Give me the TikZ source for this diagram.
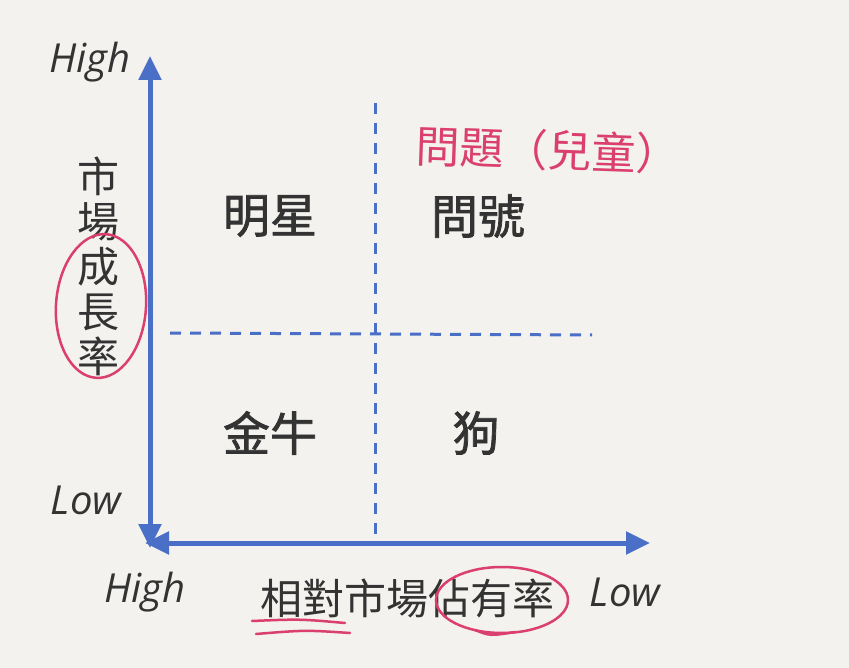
\documentclass[tikz,border=0pt]{standalone}
\usepackage{fontspec}
\usetikzlibrary{arrows.meta}
\newfontfamily\cjk{Noto Sans CJK TC}
\newfontfamily\cjkmed[FakeBold=1.6]{Noto Sans CJK TC}
\setmainfont{Open Sans}
\definecolor{paper}{HTML}{F3F2EE}
\definecolor{axisblue}{HTML}{4A6FC6}
\definecolor{ink}{HTML}{333333}
\definecolor{pen}{HTML}{DB3F6E}
\tikzset{
  axisline/.style={draw=axisblue, line width=5pt, -{Triangle[length=24pt,width=22pt]}},
  divider/.style={draw=axisblue, line width=3pt, dash pattern=on 11pt off 9pt},
  quad/.style={text=ink, font=\cjkmed\fontsize{47}{47}\selectfont, inner sep=0pt},
  axislbl/.style={text=ink, font=\itshape\fontsize{40}{40}\selectfont, inner sep=0pt},
  cjklbl/.style={text=ink, font=\cjk\fontsize{42}{45}\selectfont, inner sep=0pt},
  penline/.style={draw=pen, line width=2.5pt, line cap=round},
}
\begin{document}
\begin{tikzpicture}[x=1pt,y=-1pt]
\fill[paper] (0,0) rectangle (849,668);
\useasboundingbox (0,0) rectangle (849,668);
% axes
\coordinate (O) at (150,543);
\coordinate (Ytop) at (150,56);
\coordinate (Ybot) at (150,548);
\coordinate (Xleft) at (145,543);
\coordinate (Xright) at (650,543);
\coordinate (Ymid) at (150,300);
\coordinate (Xmid) at (400,543);
\draw[axisline] (Ymid) -- (Ytop);
\draw[axisline] (Ymid) -- (Ybot);
\draw[axisline] (Xmid) -- (Xright);
\draw[axisline] (Xmid) -- (Xleft);
% dividers
\coordinate (Vtop) at (375,103);
\coordinate (Vbot) at (375,540);
\coordinate (Hl) at (170,333);
\coordinate (Hr) at (592,335);
\draw[divider] (Vtop) -- (Vbot);
\draw[divider] (Hl) -- (Hr);
% quadrant labels
\node[quad] (star) at (270,216) {明星};
\node[quad] (qm) at (478,216) {問號};
\node[quad] (cow) at (270,433) {金牛};
\node[quad] (dog) at (476,433) {狗};
% axis labels
\node[axislbl] (yhigh) at (90,62) {High};
\node[axislbl] (ylow) at (86,500) {Low};
\node[axislbl] (xhigh) at (145,592) {High};
\node[axislbl] (xlow) at (625,592) {Low};
\node[cjklbl, align=center] (ytitle) at (98,266) {市\\場\\成\\長\\率};
\node[cjklbl] (xtitle) at (407,598) {相對市場佔有率};
% handwritten notes
\node[text=pen, font=\cjk\fontsize{44}{44}\selectfont, inner sep=0pt, rotate=-2] (note) at (548,150) {問題（兒童）};
\draw[penline, rotate around={-4:(101,306)}] (101,306) ellipse [x radius=45, y radius=72];
\draw[penline] (502,600) ellipse [x radius=66, y radius=33];
\draw[penline] (475,630) .. controls (490,636) .. (515,632);
\draw[penline] (252,621) .. controls (300,619) .. (345,623);
\draw[penline] (256,634) .. controls (305,630) .. (350,633);
\end{tikzpicture}
\end{document}
